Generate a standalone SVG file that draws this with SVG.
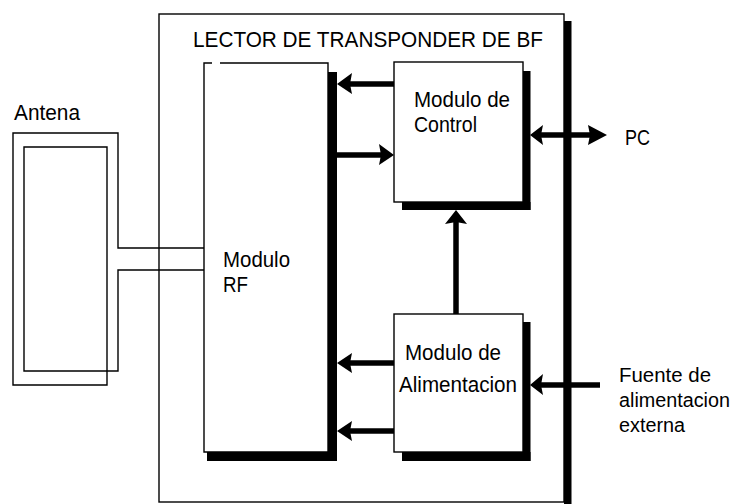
<svg xmlns="http://www.w3.org/2000/svg" width="736" height="504" viewBox="0 0 736 504">
<style>
.thin{fill:none;stroke:#000;stroke-width:1.4}
.box{fill:#fff;stroke:#000;stroke-width:1.4}
.sh{fill:#000}
.bus{stroke:#000;stroke-width:5.5;fill:none}
.hd{fill:#000}
text{font-family:"Liberation Sans",Arial,sans-serif;font-size:22px;fill:#000}
#fuente text{font-size:20px}
</style>
<rect width="736" height="504" fill="#fff"/>
<g id="lector">
<rect class="sh" x="564" y="21" width="7.5" height="490"/>
<rect class="thin" x="159" y="14" width="405" height="488"/>
<text x="193" y="47" textLength="350" lengthAdjust="spacingAndGlyphs">LECTOR DE TRANSPONDER DE BF</text>
</g>
<g id="antena">
<path class="thin" d="M204,248 H118 V133 H13 V385 H107 V147 H24 V371 H118 V270 H204"/>
<text x="14" y="120" textLength="66" lengthAdjust="spacingAndGlyphs">Antena</text>
</g>
<g id="modulo-rf">
<rect class="sh" x="328" y="72" width="9" height="389"/>
<rect class="sh" x="207" y="452" width="130" height="9"/>
<rect x="204" y="63" width="124" height="389" fill="#fff"/>
<path class="thin" d="M212,63 H204 V452 H328 V63 H220"/>
<text x="223" y="267" textLength="67" lengthAdjust="spacingAndGlyphs">Modulo</text>
<text x="223" y="292" textLength="25" lengthAdjust="spacingAndGlyphs">RF</text>
</g>
<g id="modulo-control">
<rect class="sh" x="523" y="71" width="7.5" height="139"/>
<rect class="sh" x="402" y="202" width="128.5" height="8"/>
<rect class="box" x="394" y="62" width="129" height="140"/>
<text x="414" y="107" textLength="96" lengthAdjust="spacingAndGlyphs">Modulo de</text>
<text x="414" y="132" textLength="63" lengthAdjust="spacingAndGlyphs">Control</text>
</g>
<g id="modulo-alimentacion">
<rect class="sh" x="523" y="322" width="7.5" height="139"/>
<rect class="sh" x="402" y="452" width="128.5" height="9"/>
<rect class="box" x="394" y="314" width="129" height="138"/>
<text x="405" y="360" textLength="96" lengthAdjust="spacingAndGlyphs">Modulo de</text>
<text x="399" y="392" textLength="118" lengthAdjust="spacingAndGlyphs">Alimentacion</text>
</g>
<g id="pc">
<text x="625" y="145" textLength="25" lengthAdjust="spacingAndGlyphs">PC</text>
</g>
<g id="fuente">
<text x="619" y="382" textLength="92" lengthAdjust="spacingAndGlyphs">Fuente de</text>
<text x="619" y="407" textLength="111" lengthAdjust="spacingAndGlyphs">alimentacion</text>
<text x="619" y="432" textLength="66" lengthAdjust="spacingAndGlyphs">externa</text>
</g>
<g id="connectors">
<line class="bus" x1="394" y1="84" x2="349" y2="84"/>
<polygon class="hd" points="337,84 352,73 350,84 352,94"/>
<line class="bus" x1="337" y1="155" x2="382" y2="155"/>
<polygon class="hd" points="394,155 379,144 381,155 379,165"/>
<line class="bus" x1="540" y1="135" x2="591" y2="135"/>
<polygon class="hd" points="530,135 543,125 541,135 543,145"/>
<polygon class="hd" points="607,135 588,125 590,135 588,145"/>
<line class="bus" x1="456" y1="314" x2="456" y2="221"/>
<polygon class="hd" points="456,210 445,224 456,222 467,224"/>
<line class="bus" x1="394" y1="363" x2="349" y2="363"/>
<polygon class="hd" points="337,363 352,353 350,363 352,373"/>
<line class="bus" x1="394" y1="431" x2="349" y2="431"/>
<polygon class="hd" points="337,431 352,421 350,431 352,441"/>
<line class="bus" x1="600" y1="385" x2="540" y2="385"/>
<polygon class="hd" points="530,385 543,374 541,385 543,395"/>
</g>
</svg>
